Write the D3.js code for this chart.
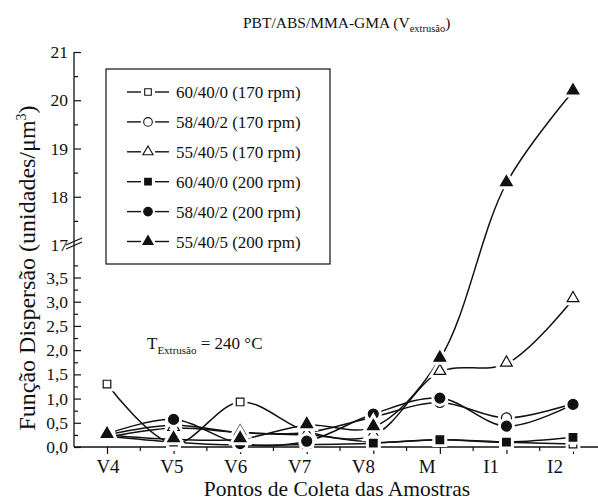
<!DOCTYPE html>
<html><head><meta charset="utf-8">
<script src="https://cdn.jsdelivr.net/npm/d3@7"></script>
<style>
body{margin:0;background:#fff;}
text{font-family:"Liberation Serif","Times New Roman",serif;fill:#111;}
</style></head>
<body><svg id="c" width="598" height="503"></svg>
<script>
const categories = ["V4","V5","V6","V7","V8","M","I1","I2"];
const sq170 = [1.30, 0.07, 0.93, 0.32, 0.10, 0.15, 0.10, 0.06];
const ci170 = [0.25, 0.45, 0.30, 0.30, 0.62, 0.92, 0.60, 0.90];
const tr170 = [0.20, 0.39, 0.30, 0.25, 0.24, 1.55, 1.72, 3.05];
const sq200 = [0.22, 0.10, 0.04, 0.05, 0.08, 0.15, 0.10, 0.20];
const ci200 = [0.27, 0.57, 0.07, 0.12, 0.68, 1.01, 0.43, 0.88];
const tr200 = [0.25, 0.16, 0.16, 0.45, 0.41, 1.82, 18.28, 20.18];
const seriesNames = ["60/40/0 (170 rpm)","58/40/2 (170 rpm)","55/40/5 (170 rpm)","60/40/0 (200 rpm)","58/40/2 (200 rpm)","55/40/5 (200 rpm)"];
const lowerTicks = [0,0.5,1,1.5,2,2.5,3,3.5];
const lowerTickLabels = ["0,0","0,5","1,0","1,5","2,0","2,5","3,0","3,5"];
const upperTicks = [17,18,19,20,21];

const series = [
  {name:seriesNames[0], values:sq170, shape:d3.symbolSquare, fill:"#fff", size:58},
  {name:seriesNames[1], values:ci170, shape:d3.symbolCircle, fill:"#fff", size:78},
  {name:seriesNames[2], values:tr170, shape:d3.symbolTriangle, fill:"#fff", size:60},
  {name:seriesNames[3], values:sq200, shape:d3.symbolSquare, fill:"#111", size:58},
  {name:seriesNames[4], values:ci200, shape:d3.symbolCircle, fill:"#111", size:78},
  {name:seriesNames[5], values:tr200, shape:d3.symbolTriangle, fill:"#111", size:60}
];

const svg = d3.select("#c");
const axisX0 = 74, axisY0 = 447;
const x = d3.scalePoint().domain(categories).range([107, 573]);
const xLab = d3.scalePoint().domain(categories).range([108, 555]);
const yLow = d3.scaleLinear().domain([0, 3.5]).range([447, 277.5]);
const yUp = d3.scaleLinear().domain([17, 21]).range([245, 52]);
const yv = v => v <= 5 ? yLow(v) : yUp(v);

const g = svg.append("g");
const axL = g.append("g").attr("transform",`translate(${axisX0},0)`)
  .call(d3.axisLeft(yLow).tickValues(lowerTicks).tickFormat((d,i)=>lowerTickLabels[i]).tickSizeInner(-7).tickSizeOuter(0).tickPadding(6));
axL.select(".domain").remove();
g.append("g").attr("transform",`translate(${axisX0},0)`)
  .call(d3.axisLeft(yLow).tickValues([0.25,0.75,1.25,1.75,2.25,2.75,3.25,3.75]).tickFormat("").tickSizeInner(-4).tickSizeOuter(0))
  .select(".domain").remove();
const axU = g.append("g").attr("transform",`translate(${axisX0},0)`)
  .call(d3.axisLeft(yUp).tickValues(upperTicks).tickFormat(d3.format("d")).tickSizeInner(-7).tickSizeOuter(0).tickPadding(6));
axU.select(".domain").remove();
axU.selectAll(".tick").filter(d=>d===17).select("line").remove();
g.append("g").attr("transform",`translate(${axisX0},0)`)
  .call(d3.axisLeft(yUp).tickValues([17.5,18.5,19.5,20.5]).tickFormat("").tickSizeInner(-4).tickSizeOuter(0))
  .select(".domain").remove();
g.append("line").attr("x1",axisX0).attr("x2",axisX0).attr("y1",yUp(21)).attr("y2",axisY0).attr("stroke","#111").attr("stroke-width",1.3);
[0,4].forEach(o=>{
  g.append("line").attr("x1",axisX0-8).attr("y1",yUp(17)+4-o).attr("x2",axisX0+8).attr("y2",yUp(17)-3-o).attr("stroke","#111").attr("stroke-width",1.3);
});
const axB = g.append("g").attr("transform",`translate(0,${axisY0})`)
  .call(d3.axisBottom(x).tickSizeInner(7).tickSizeOuter(0).tickFormat(""));
axB.select(".domain").remove();
const mids = categories.map((c,i)=>x(c)+ (x.step()/2));
g.append("g").selectAll("line").data(mids.slice(0,7)).join("line")
  .attr("x1",d=>d).attr("x2",d=>d).attr("y1",axisY0).attr("y2",axisY0+4).attr("stroke","#111").attr("stroke-width",1.2);
g.append("line").attr("x1",axisX0).attr("x2",598).attr("y1",axisY0).attr("y2",axisY0).attr("stroke","#111").attr("stroke-width",1.3);
g.selectAll(".tick line").attr("stroke","#111").attr("stroke-width",1.2);
g.selectAll(".tick text").style("font-size","17.5px").style("font-family","Liberation Serif");
g.append("g").selectAll("text").data(categories).join("text")
  .attr("x",d=>xLab(d)).attr("y",axisY0+26).attr("text-anchor","middle")
  .style("font-size","19px").text(d=>d);

const line = d3.line().x((d,i)=>x(categories[i])).y(d=>yv(d)).curve(d3.curveCatmullRom.alpha(0.5));
series.forEach(s=>{
  svg.append("path").attr("d",line(s.values)).attr("fill","none").attr("stroke","#111").attr("stroke-width",1.5);
});
series.forEach(s=>{
  const sym = d3.symbol().type(s.shape).size(s.size);
  const gg = svg.append("g");
  s.values.forEach((v,i)=>{
    const tx = x(categories[i]), ty = yv(v) + (s.shape===d3.symbolTriangle? -1:0);
    gg.append("path").attr("d",sym()).attr("transform",`translate(${tx},${ty})`)
      .attr("fill","#fff").attr("stroke","#fff").attr("stroke-width",7);
    gg.append("path").attr("d",sym()).attr("transform",`translate(${tx},${ty})`)
      .attr("fill",s.fill).attr("stroke","#111").attr("stroke-width",1.2);
  });
});

const lg = svg.append("g");
lg.append("rect").attr("x",106).attr("y",69).attr("width",224).attr("height",195)
  .attr("fill","#fff").attr("stroke","#111").attr("stroke-width",1.2);
series.forEach((s,i)=>{
  const yy = 92 + i*29.9;
  lg.append("line").attr("x1",127).attr("x2",141).attr("y1",yy).attr("y2",yy).attr("stroke","#111").attr("stroke-width",1.4);
  lg.append("line").attr("x1",155).attr("x2",169).attr("y1",yy).attr("y2",yy).attr("stroke","#111").attr("stroke-width",1.4);
  lg.append("path").attr("d",d3.symbol().type(s.shape).size(s.size*0.75)()).attr("transform",`translate(148,${yy})`)
    .attr("fill",s.fill).attr("stroke","#111").attr("stroke-width",1.1);
  lg.append("text").attr("x",176).attr("y",yy+6).style("font-size","17px").text(s.name);
});

const t = svg.append("text").attr("x",243).attr("y",28).style("font-size","15.5px");
t.append("tspan").text("PBT/ABS/MMA-GMA (V");
t.append("tspan").attr("dy",4).style("font-size","10.5px").text("extrusão");
t.append("tspan").attr("dy",-4).text(")");

const a = svg.append("text").attr("x",147).attr("y",349).style("font-size","17px");
a.append("tspan").text("T");
a.append("tspan").attr("dy",5).style("font-size","11px").text("Extrusão");
a.append("tspan").attr("dy",-5).text(" = 240 °C");

svg.append("text").attr("x",337).attr("y",496).attr("text-anchor","middle").style("font-size","21.5px").text("Pontos de Coleta das Amostras");
const yl = svg.append("text").attr("transform","translate(35,268) rotate(-90)").attr("text-anchor","middle").style("font-size","24px");
yl.append("tspan").text("Função Dispersão (unidades/μm");
yl.append("tspan").attr("dy",-9).style("font-size","14px").text("3");
yl.append("tspan").attr("dy",9).text(")");
</script></body></html>
